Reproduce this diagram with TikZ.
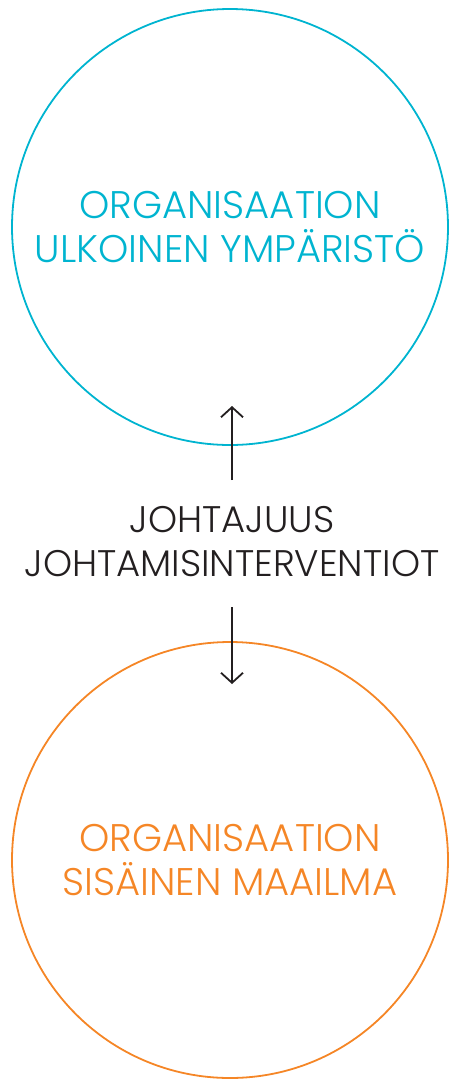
\documentclass[tikz,border=0pt]{standalone}
\usepackage{fontspec}
\setmainfont{Poppins}[UprightFont=* Light]
\usetikzlibrary{arrows.meta, positioning}

\definecolor{ulkosyan}{RGB}{0,180,208}
\definecolor{sisaoranssi}{RGB}{245,134,38}
\definecolor{tumma}{RGB}{35,31,32}

\begin{document}
\begin{tikzpicture}[x=1pt, y=-1pt,
    piiri/.style={circle, draw, line width=1.8pt, minimum size=436pt, inner sep=0pt,
        align=center, font=\fontsize{38.5}{44}\selectfont},
    nuoli/.style={-{Straight Barb[length=10pt,width=22pt]}, line width=1.8pt, draw=tumma}]
    \useasboundingbox (0,0) rectangle (448,1080);

    % 两个圆
    \node[piiri, draw=ulkosyan, text=ulkosyan] (ulko) at (230,227)
        {ORGANISAATION\\ULKOINEN YMPÄRISTÖ};
    \node[piiri, draw=sisaoranssi, text=sisaoranssi] (sisa) at (230,860)
        {ORGANISAATION\\SISÄINEN MAAILMA};

    % 中间文字
    \node[align=center, text=tumma, font=\fontsize{37}{44}\selectfont] (johto) at (232,542)
        {JOHTAJUUS\\JOHTAMISINTERVENTIOT};

    % 箭头
    \coordinate (ylosAlku) at (232,480);
    \coordinate (ylos) at (232,406);
    \coordinate (alasAlku) at (232,607);
    \coordinate (alas) at (232,684);
    \draw[nuoli] (ylosAlku) -- (ylos);
    \draw[nuoli] (alasAlku) -- (alas);
\end{tikzpicture}
\end{document}
